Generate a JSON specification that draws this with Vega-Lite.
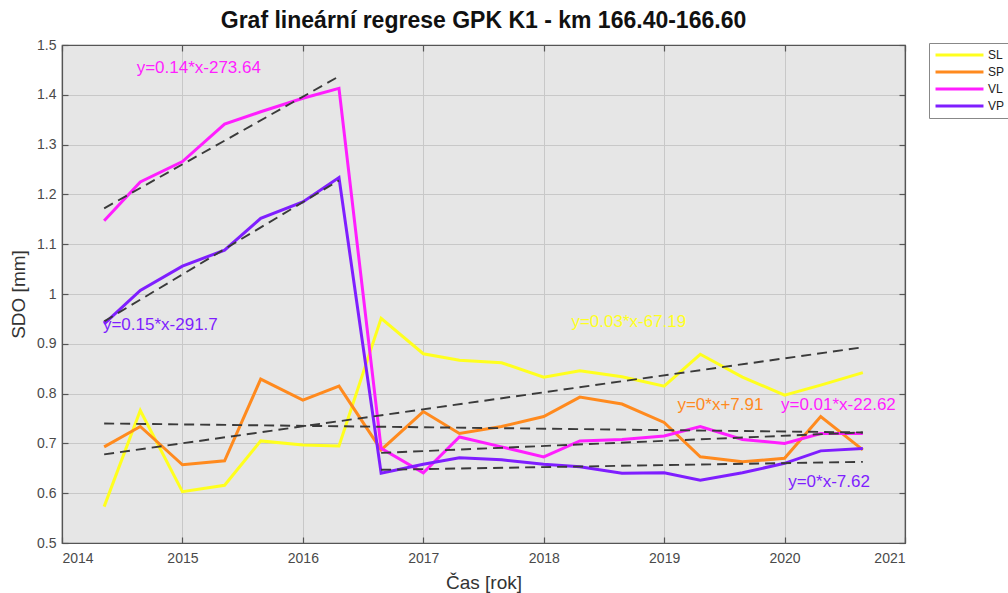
{
  "$schema": "https://vega.github.io/schema/vega-lite/v6.json",
  "width": 843,
  "height": 498,
  "autosize": {"type": "none"},
  "padding": {"left": 62, "top": 45, "right": 103, "bottom": 50},
  "background": "white",
  "config": {
    "font": "Liberation Sans",
    "view": {"stroke": "#555555", "strokeWidth": 1.2, "fill": "#e6e6e6"}
  },
  "title": {
    "text": "Graf lineární regrese GPK K1 - km 166.40-166.60",
    "fontSize": 23,
    "fontWeight": "bold",
    "color": "#111111",
    "anchor": "middle",
    "offset": 5
  },
  "datasets": {
    "series": [
      {"series": "SL", "t": 2014.35, "v": 0.573}, {"series": "SL", "t": 2014.65, "v": 0.766}, {"series": "SL", "t": 2015.0, "v": 0.603}, {"series": "SL", "t": 2015.35, "v": 0.616}, {"series": "SL", "t": 2015.65, "v": 0.705}, {"series": "SL", "t": 2016.0, "v": 0.697}, {"series": "SL", "t": 2016.3, "v": 0.695}, {"series": "SL", "t": 2016.65, "v": 0.951}, {"series": "SL", "t": 2017.0, "v": 0.880}, {"series": "SL", "t": 2017.3, "v": 0.867}, {"series": "SL", "t": 2017.65, "v": 0.862}, {"series": "SL", "t": 2018.0, "v": 0.833}, {"series": "SL", "t": 2018.3, "v": 0.846}, {"series": "SL", "t": 2018.65, "v": 0.834}, {"series": "SL", "t": 2019.0, "v": 0.815}, {"series": "SL", "t": 2019.3, "v": 0.879}, {"series": "SL", "t": 2019.65, "v": 0.833}, {"series": "SL", "t": 2020.0, "v": 0.797}, {"series": "SL", "t": 2020.3, "v": 0.817}, {"series": "SL", "t": 2020.65, "v": 0.842},
      {"series": "SP", "t": 2014.35, "v": 0.693}, {"series": "SP", "t": 2014.65, "v": 0.734}, {"series": "SP", "t": 2015.0, "v": 0.657}, {"series": "SP", "t": 2015.35, "v": 0.665}, {"series": "SP", "t": 2015.65, "v": 0.829}, {"series": "SP", "t": 2016.0, "v": 0.787}, {"series": "SP", "t": 2016.3, "v": 0.815}, {"series": "SP", "t": 2016.65, "v": 0.687}, {"series": "SP", "t": 2017.0, "v": 0.764}, {"series": "SP", "t": 2017.3, "v": 0.720}, {"series": "SP", "t": 2017.65, "v": 0.734}, {"series": "SP", "t": 2018.0, "v": 0.754}, {"series": "SP", "t": 2018.3, "v": 0.793}, {"series": "SP", "t": 2018.65, "v": 0.779}, {"series": "SP", "t": 2019.0, "v": 0.742}, {"series": "SP", "t": 2019.3, "v": 0.673}, {"series": "SP", "t": 2019.65, "v": 0.663}, {"series": "SP", "t": 2020.0, "v": 0.670}, {"series": "SP", "t": 2020.3, "v": 0.754}, {"series": "SP", "t": 2020.65, "v": 0.687},
      {"series": "VL", "t": 2014.35, "v": 1.147}, {"series": "VL", "t": 2014.65, "v": 1.225}, {"series": "VL", "t": 2015.0, "v": 1.266}, {"series": "VL", "t": 2015.35, "v": 1.341}, {"series": "VL", "t": 2015.65, "v": 1.366}, {"series": "VL", "t": 2016.0, "v": 1.393}, {"series": "VL", "t": 2016.3, "v": 1.413}, {"series": "VL", "t": 2016.65, "v": 0.690}, {"series": "VL", "t": 2017.0, "v": 0.641}, {"series": "VL", "t": 2017.3, "v": 0.713}, {"series": "VL", "t": 2017.65, "v": 0.693}, {"series": "VL", "t": 2018.0, "v": 0.673}, {"series": "VL", "t": 2018.3, "v": 0.705}, {"series": "VL", "t": 2018.65, "v": 0.708}, {"series": "VL", "t": 2019.0, "v": 0.715}, {"series": "VL", "t": 2019.3, "v": 0.734}, {"series": "VL", "t": 2019.65, "v": 0.708}, {"series": "VL", "t": 2020.0, "v": 0.700}, {"series": "VL", "t": 2020.3, "v": 0.720}, {"series": "VL", "t": 2020.65, "v": 0.720},
      {"series": "VP", "t": 2014.35, "v": 0.940}, {"series": "VP", "t": 2014.65, "v": 1.007}, {"series": "VP", "t": 2015.0, "v": 1.056}, {"series": "VP", "t": 2015.35, "v": 1.088}, {"series": "VP", "t": 2015.65, "v": 1.152}, {"series": "VP", "t": 2016.0, "v": 1.185}, {"series": "VP", "t": 2016.3, "v": 1.234}, {"series": "VP", "t": 2016.65, "v": 0.640}, {"series": "VP", "t": 2017.0, "v": 0.658}, {"series": "VP", "t": 2017.3, "v": 0.671}, {"series": "VP", "t": 2017.65, "v": 0.667}, {"series": "VP", "t": 2018.0, "v": 0.658}, {"series": "VP", "t": 2018.3, "v": 0.653}, {"series": "VP", "t": 2018.65, "v": 0.640}, {"series": "VP", "t": 2019.0, "v": 0.641}, {"series": "VP", "t": 2019.3, "v": 0.626}, {"series": "VP", "t": 2019.65, "v": 0.641}, {"series": "VP", "t": 2020.0, "v": 0.660}, {"series": "VP", "t": 2020.3, "v": 0.685}, {"series": "VP", "t": 2020.65, "v": 0.690}
    ],
    "fits": [
      {"fit": "VL1", "t": 2014.35, "v": 1.172}, {"fit": "VL1", "t": 2016.3, "v": 1.437},
      {"fit": "VP1", "t": 2014.35, "v": 0.945}, {"fit": "VP1", "t": 2016.3, "v": 1.228},
      {"fit": "SL", "t": 2014.35, "v": 0.678}, {"fit": "SL", "t": 2020.65, "v": 0.893},
      {"fit": "SP", "t": 2014.35, "v": 0.740}, {"fit": "SP", "t": 2020.65, "v": 0.722},
      {"fit": "VL2", "t": 2016.65, "v": 0.681}, {"fit": "VL2", "t": 2020.65, "v": 0.722},
      {"fit": "VP2", "t": 2016.65, "v": 0.647}, {"fit": "VP2", "t": 2020.65, "v": 0.663}
    ],
    "labels": [
      {"series": "VL", "label": "y=0.14*x-273.64", "t": 2014.62, "v": 1.453},
      {"series": "VP", "label": "y=0.15*x-291.7", "t": 2014.34, "v": 0.938},
      {"series": "SL", "label": "y=0.03*x-67.19", "t": 2018.23, "v": 0.944},
      {"series": "SP", "label": "y=0*x+7.91", "t": 2019.11, "v": 0.777},
      {"series": "VL", "label": "y=0.01*x-22.62", "t": 2019.97, "v": 0.777},
      {"series": "VP", "label": "y=0*x-7.62", "t": 2020.03, "v": 0.623}
    ]
  },
  "resolve": {"axis": {"x": "independent", "y": "independent"}},
  "layer": [
    {
      "data": {"name": "series"},
      "mark": {"type": "line", "strokeWidth": 3},
      "encoding": {
        "x": {
          "field": "t", "type": "quantitative",
          "scale": {"domain": [2014, 2021], "nice": false, "zero": false},
          "axis": {
            "orient": "bottom",
            "values": [2014, 2015, 2016, 2017, 2018, 2019, 2020, 2021],
            "format": "d",
            "title": "Čas [rok]",
            "titleFontSize": 19, "titleFontWeight": "normal", "titleColor": "#333333", "titlePadding": 8,
            "labelFontSize": 14, "labelColor": "#4a4a4a", "labelPadding": 14,
            "tickSize": -6, "tickColor": "#555555", "tickWidth": 1.2,
            "domainColor": "#555555", "domainWidth": 1.2,
            "grid": true, "gridColor": "#c8c8c8", "gridWidth": 1
          }
        },
        "y": {
          "field": "v", "type": "quantitative",
          "scale": {"domain": [0.5, 1.5], "nice": false, "zero": false},
          "axis": {
            "orient": "left",
            "values": [0.5, 0.6, 0.7, 0.8, 0.9, 1.0, 1.1, 1.2, 1.3, 1.4, 1.5],
            "format": "~g",
            "title": "SDO [mm]",
            "titleFontSize": 19, "titleFontWeight": "normal", "titleColor": "#333333", "titlePadding": 8,
            "labelFontSize": 14, "labelColor": "#4a4a4a", "labelPadding": 12,
            "tickSize": -6, "tickColor": "#555555", "tickWidth": 1.2,
            "domainColor": "#555555", "domainWidth": 1.2,
            "grid": true, "gridColor": "#c8c8c8", "gridWidth": 1
          }
        },
        "color": {
          "field": "series", "type": "nominal",
          "scale": {"domain": ["SL", "SP", "VL", "VP"], "range": ["#ffff1e", "#ff8a1e", "#ff1eff", "#7f1eff"]},
          "legend": {
            "orient": "none", "legendX": 867, "legendY": -2,
            "title": null, "symbolType": "stroke", "symbolSize": 2300, "symbolStrokeWidth": 3,
            "clipHeight": 14,
            "labelFontSize": 12, "labelColor": "#222222", "labelOffset": 3,
            "strokeColor": "#888888", "fillColor": "white", "padding": 5, "rowPadding": 3
          }
        }
      }
    },
    {
      "data": {"name": "fits"},
      "mark": {"type": "line", "strokeWidth": 1.9, "strokeDash": [10, 6], "color": "#3a3a3a"},
      "encoding": {
        "x": {
          "field": "t", "type": "quantitative",
          "scale": {"domain": [2014, 2021], "nice": false, "zero": false},
          "axis": {
            "orient": "top", "values": [2014, 2015, 2016, 2017, 2018, 2019, 2020, 2021],
            "labels": false, "title": null, "grid": false,
            "tickSize": -6, "tickColor": "#555555", "tickWidth": 1.2,
            "domainColor": "#555555", "domainWidth": 1.2
          }
        },
        "y": {
          "field": "v", "type": "quantitative",
          "scale": {"domain": [0.5, 1.5], "nice": false, "zero": false},
          "axis": {
            "orient": "right", "values": [0.5, 0.6, 0.7, 0.8, 0.9, 1.0, 1.1, 1.2, 1.3, 1.4, 1.5],
            "labels": false, "title": null, "grid": false,
            "tickSize": -6, "tickColor": "#555555", "tickWidth": 1.2,
            "domainColor": "#555555", "domainWidth": 1.2
          }
        },
        "detail": {"field": "fit", "type": "nominal"}
      }
    },
    {
      "data": {"name": "labels"},
      "mark": {"type": "text", "fontSize": 17, "align": "left", "baseline": "middle"},
      "encoding": {
        "x": {"field": "t", "type": "quantitative", "axis": null},
        "y": {"field": "v", "type": "quantitative", "axis": null},
        "text": {"field": "label"},
        "color": {"field": "series", "type": "nominal"}
      }
    }
  ]
}
